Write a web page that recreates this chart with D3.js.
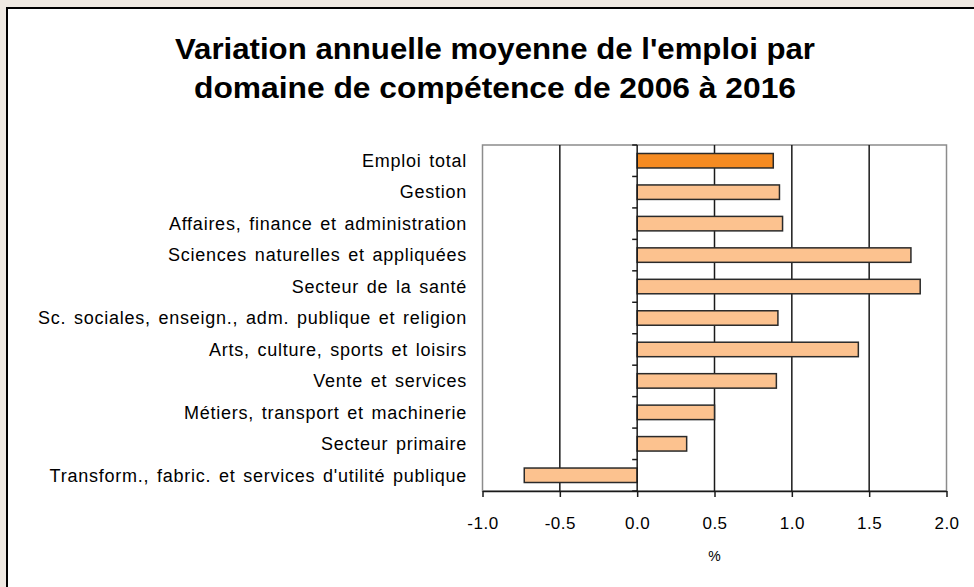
<!DOCTYPE html>
<html>
<head>
<meta charset="utf-8">
<script src="https://cdn.jsdelivr.net/npm/d3@7"></script>
<style>
  html, body { margin: 0; padding: 0; background: #efe9e2; }
  svg { display: block; }
  text { font-family: "Liberation Sans", Arial, sans-serif; fill: #000; }
</style>
</head>
<body>
<svg id="chart"></svg>
<script>
// chart values
const categories = [
    "Emploi total",
    "Gestion",
    "Affaires, finance et administration",
    "Sciences naturelles et appliquées",
    "Secteur de la santé",
    "Sc. sociales, enseign., adm. publique et religion",
    "Arts, culture, sports et loisirs",
    "Vente et services",
    "Métiers, transport et machinerie",
    "Secteur primaire",
    "Transform., fabric. et services d'utilité publique"
];
const values = [0.88, 0.92, 0.94, 1.77, 1.83, 0.91, 1.43, 0.90, 0.50, 0.32, -0.73];
const xTicks = [-1.0, -0.5, 0.0, 0.5, 1.0, 1.5, 2.0];
const titleLines = [
    "Variation annuelle moyenne de l'emploi par",
    "domaine de compétence de 2006 à 2016"
];
const axisTitle = "%";

const width = 974, height = 587;
const plot = { left: 482.5, right: 946.5, top: 145, bottom: 491 };

const svg = d3.select("#chart").attr("width", width).attr("height", height);

// white chart box with black frame
svg.append("rect")
    .attr("x", 7).attr("y", 8)
    .attr("width", 1000).attr("height", 700)
    .attr("fill", "#fff")
    .attr("stroke", "#000")
    .attr("stroke-width", 2);

const titleWidths = [640, 602];
svg.append("g")
    .selectAll("text")
    .data(titleLines)
    .enter().append("text")
        .attr("x", 495)
        .attr("y", (d, i) => 59 + i * 39)
        .attr("text-anchor", "middle")
        .attr("font-size", 29)
        .attr("font-weight", "bold")
        .attr("textLength", (d, i) => titleWidths[i])
        .attr("lengthAdjust", "spacingAndGlyphs")
        .text(d => d);

const x = d3.scaleLinear().domain([-1, 2]).range([plot.left, plot.right]);
const y = d3.scaleBand()
    .domain(categories)
    .range([plot.top, plot.bottom])
    .paddingInner(0.54)
    .paddingOuter(0.27);

// plot area border
svg.append("rect")
    .attr("x", plot.left).attr("y", plot.top)
    .attr("width", plot.right - plot.left)
    .attr("height", plot.bottom - plot.top)
    .attr("fill", "none")
    .attr("stroke", "#8c8c8c")
    .attr("stroke-width", 1.5);

// vertical gridlines
svg.append("g")
    .selectAll("line")
    .data(xTicks.filter(t => t !== 0 && t !== -1 && t !== 2))
    .enter().append("line")
        .attr("x1", d => x(d)).attr("x2", d => x(d))
        .attr("y1", plot.top).attr("y2", plot.bottom)
        .attr("stroke", "#1a1a1a")
        .attr("stroke-width", 1.5);

// bars
svg.append("g")
    .selectAll("rect")
    .data(categories)
    .enter().append("rect")
        .attr("x", (d, i) => x(Math.min(0, values[i])))
        .attr("y", d => y(d))
        .attr("width", (d, i) => Math.abs(x(values[i]) - x(0)))
        .attr("height", y.bandwidth())
        .attr("fill", (d, i) => i === 0 ? "#f58b22" : "#fcc28f")
        .attr("stroke", "#2a2a2a")
        .attr("stroke-width", 1.5);

// category axis at zero with ticks between bars
const boundaries = d3.range(categories.length + 1).map(i => plot.top + i * y.step());
const catAxis = svg.append("g");
catAxis.append("line")
    .attr("x1", x(0)).attr("x2", x(0))
    .attr("y1", plot.top).attr("y2", plot.bottom)
    .attr("stroke", "#1a1a1a").attr("stroke-width", 1.5);
catAxis.selectAll(".tick")
    .data(boundaries)
    .enter().append("line")
        .attr("class", "tick")
        .attr("x1", x(0) - 5).attr("x2", x(0))
        .attr("y1", d => d).attr("y2", d => d)
        .attr("stroke", "#1a1a1a").attr("stroke-width", 1.5);

// category labels
svg.append("g")
    .selectAll("text")
    .data(categories)
    .enter().append("text")
        .attr("x", 467)
        .attr("y", d => y(d) + y.bandwidth() / 2)
        .attr("dy", "0.35em")
        .attr("text-anchor", "end")
        .attr("font-size", 18)
        .attr("letter-spacing", "0.75px")
        .attr("word-spacing", "2px")
        .text(d => d);

// value axis
const fmt = d3.format(".1f");
const xAxis = svg.append("g")
    .attr("transform", `translate(0,${plot.bottom})`)
    .call(d3.axisBottom(x).tickValues(xTicks).tickSize(6).tickSizeOuter(0)
        .tickFormat(d => fmt(d).replace("\u2212", "-")));
xAxis.select(".domain").attr("stroke", "#1a1a1a").attr("stroke-width", 1.5);
xAxis.selectAll(".tick line").attr("stroke", "#1a1a1a").attr("stroke-width", 1.5);
xAxis.selectAll(".tick text")
    .attr("font-family", "Liberation Sans, Arial, sans-serif")
    .attr("font-size", 17)
    .attr("letter-spacing", "0.5px")
    .attr("fill", "#000")
    .attr("y", 26);

svg.append("text")
    .attr("x", x(0.5))
    .attr("y", 561)
    .attr("text-anchor", "middle")
    .attr("font-size", 14)
    .text(axisTitle);
</script>
</body>
</html>
